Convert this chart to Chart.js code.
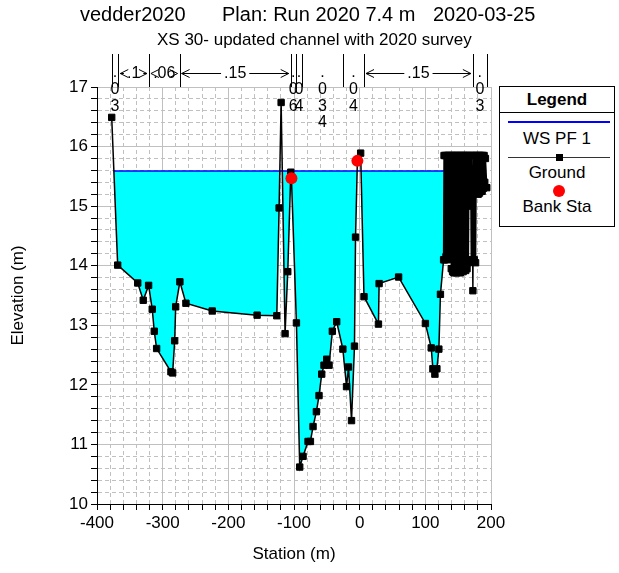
<!DOCTYPE html>
<html>
<head>
<meta charset="utf-8">
<script src="https://cdn.jsdelivr.net/npm/chart.js@4.4.1/dist/chart.umd.min.js"></script>
<style>
    html, body { margin: 0; padding: 0; background: #fff; }
    #wrap { position: relative; width: 619px; height: 573px; font-family: Arial, "Liberation Sans", sans-serif; color: #000; }
    #wrap canvas { position: absolute; left: 0; top: 0; }
    .txt { position: absolute; white-space: nowrap; line-height: 1; }
    #legend { position: absolute; left: 499px; top: 86px; width: 114px; height: 139px; border: 1px solid #000; background: #fff; }
    #legend .row { position: absolute; left: 0; width: 100%; text-align: center; font-size: 17px; line-height: 1; white-space: nowrap; }
    #legend .sym { position: absolute; }
</style>
</head>
<body>
<div id="wrap">
    <canvas id="xs_chart" width="619" height="573"></canvas>
    <div class="txt" style="left:80px;top:4px;font-size:20px">vedder2020</div>
    <div class="txt" style="left:222px;top:4px;font-size:20px">Plan: Run 2020 7.4 m</div>
    <div class="txt" style="left:433px;top:4px;font-size:20px">2020-03-25</div>
    <div class="txt" style="left:157px;top:31px;font-size:17px">XS 30- updated channel with 2020 survey</div>
    <div id="legend">
        <div class="row" style="top:4px;font-weight:bold">Legend</div>
        <div class="sym" style="left:0;top:25px;width:114px;height:1px;background:#000"></div>
        <div class="sym" style="left:8px;top:34px;width:102px;height:2px;background:#0000ff"></div>
        <div class="row" style="top:43px">WS PF 1</div>
        <div class="sym" style="left:8px;top:70px;width:102px;height:1px;background:#333"></div>
        <div class="sym" style="left:56px;top:67px;width:7px;height:7px;background:#000"></div>
        <div class="row" style="top:77px">Ground</div>
        <div class="sym" style="left:53px;top:98px;width:12px;height:12px;border-radius:50%;background:#ff0000"></div>
        <div class="row" style="top:111px">Bank Sta</div>
    </div>
</div>
<script>
// ground survey, station (m) and elevation (m)
const groundStation = [
    -377.6, -368.5, -338.0, -329.6, -321.4, -315.9, -312.8, -309.2, -287.4, -284.8,
    -281.7, -280.2, -273.8, -264.6, -224.6, -156.2, -126.2, -122.7, -119.6, -113.6,
    -109.5, -104.9, -103.9, -96.3, -91.3, -86.2, -78.6, -75.0, -71.0, -65.9,
    -61.9, -57.8, -54.3, -50.2, -46.6, -41.6, -35.0, -25.6, -20.0, -17.0,
    -12.4, -7.9, -6.3, -3.5, 1.5, 6.6, 28.6, 29.6, 59.3, 100.1,
    109.0, 111.5, 114.5, 117.6, 120.6, 123.0,
    127.8, 128.5, 129.5, 130.5, 131.5, 132.5, 133.5, 134.5, 135.5, 136.5,
    137.5, 138.5, 139.5, 140.5, 141.5, 142.5, 143.5, 144.5, 145.5, 146.5,
    147.5, 148.5, 149.5, 150.5, 151.5, 152.5, 153.5, 154.5, 155.5, 156.5,
    157.5, 158.5, 159.5, 160.5, 161.5, 162.5, 163.5, 164.5, 165.5, 166.5,
    168.0, 169.0, 170.0, 171.0, 172.4, 173.5, 174.5, 175.5, 176.5, 177.5,
    178.5, 179.5, 180.5, 181.5, 182.5, 183.5, 184.5, 185.5, 186.5, 187.5,
    188.5, 189.5, 190.5, 191.5, 193.6
];
const groundElevation = [
    16.49, 14.01, 13.71, 13.42, 13.67, 13.27, 12.90, 12.61, 12.22, 12.20,
    12.74, 13.31, 13.73, 13.37, 13.24, 13.17, 13.16, 14.97, 16.74, 12.86,
    13.90, 15.57, 15.47, 13.04, 10.62, 10.80, 11.05, 11.05, 11.30, 11.55,
    11.82, 12.18, 12.33, 12.43, 12.33, 12.90, 13.06, 12.60, 11.97, 12.30,
    11.40, 12.65, 14.48, 15.76, 15.89, 13.48, 13.02, 13.70, 13.81, 13.03,
    12.62, 12.27, 12.18, 12.27, 12.60, 13.52,
    14.10, 15.85, 14.10, 15.85, 14.15, 15.85, 14.10, 15.85, 14.20, 15.85,
    14.30, 15.85, 13.95, 15.85, 13.90, 15.85, 13.88, 15.85, 13.90, 15.85,
    13.88, 15.85, 13.92, 15.85, 13.90, 15.85, 13.88, 15.85, 13.92, 15.85,
    13.90, 15.85, 13.95, 15.85, 13.92, 15.85, 13.95, 15.85, 14.05, 15.85,
    15.00, 15.85, 14.10, 15.85, 13.58, 15.85, 14.10, 15.85, 14.05, 15.85,
    15.25, 15.85, 15.20, 15.85, 15.22, 15.85, 15.25, 15.85, 15.25, 15.85,
    15.30, 15.85, 15.40, 15.80, 15.31
];

// bank stations
const bankStation = [-103.9, -3.5];
const bankElevation = [15.47, 15.76];

// water surface PF 1, drawn between its two ground crossings
const wsElevation = 15.59;
const wsStation = [-374.3, 128.2];

// manning's n zones (break stations and values)
const nStation = [-377.6, -367.6, -320.9, -274.2, -105.0, -97.3, -87.7, -25.3, 6.6, 172.4, 193.6];
const nValue = ['.03', '.1', '.06', '.15', '.06', '.04', '.034', '.04', '.15', '.03'];
const nStacked = [true, false, false, false, true, true, true, true, false, true];

// axis labels
const xTickLabels = [-400, -300, -200, -100, 0, 100, 200];
const yTickLabels = [10, 11, 12, 13, 14, 15, 16, 17];

const FONT = 'Arial, "Liberation Sans", sans-serif';
Chart.defaults.font.family = FONT;
Chart.defaults.font.size = 17;
Chart.defaults.color = '#000';


function toPoints(xs, ys) {
    return xs.map((x, i) => ({ x: x, y: ys[i] }));
}

function isMajorX(v) {
    return xTickLabels.includes(v);
}

function isMajorY(v) {
    return Math.abs(v - Math.round(v)) < 1e-6;
}


/**
 * draws the n-value markers above the plot
 */
const manningPlugin = {
    id: 'manning',
    afterDraw(chart) {
        const ctx = chart.ctx;
        const xs = chart.scales.x;
        const px = s => xs.getPixelForValue(s);
        ctx.save();
        ctx.strokeStyle = '#000';
        ctx.lineWidth = 1;
        ctx.beginPath();
        nStation.forEach(s => {
            const x = Math.round(px(s)) + 0.5;
            ctx.moveTo(x, 54);
            ctx.lineTo(x, 87);
        });
        ctx.stroke();

        ctx.font = '16px ' + FONT;
        ctx.textAlign = 'center';
        ctx.textBaseline = 'middle';
        ctx.fillStyle = '#000';
        const yArrow = 73.5;
        for (let i = 0; i < nValue.length; i++) {
            const x1 = px(nStation[i]);
            const x2 = px(nStation[i + 1]);
            const xc = (x1 + x2) / 2;
            if (nStacked[i]) {
                nValue[i].split('').forEach((ch, k) => ctx.fillText(ch, xc, 72.5 + k * 16.8));
                continue;
            }
            const w = ctx.measureText(nValue[i]).width;
            ctx.fillText(nValue[i], xc, yArrow);
            const a = x1 + 2;
            const b = x2 - 2;
            ctx.beginPath();
            if (xc - w / 2 - 3 > a) {
                ctx.moveTo(a, yArrow);
                ctx.lineTo(xc - w / 2 - 3, yArrow);
            }
            if (xc + w / 2 + 3 < b) {
                ctx.moveTo(xc + w / 2 + 3, yArrow);
                ctx.lineTo(b, yArrow);
            }
            ctx.moveTo(a + 8, yArrow - 4);
            ctx.lineTo(a, yArrow);
            ctx.lineTo(a + 8, yArrow + 4);
            ctx.moveTo(b - 8, yArrow - 4);
            ctx.lineTo(b, yArrow);
            ctx.lineTo(b - 8, yArrow + 4);
            ctx.stroke();
        }
        ctx.restore();
    }
};


const xsChartConfig = {
    type: 'line',
    data: {
        datasets: [
            {
                label: 'Bank Sta',
                data: toPoints(bankStation, bankElevation),
                showLine: false,
                pointStyle: 'circle',
                pointRadius: 6,
                pointBackgroundColor: '#ff0000',
                pointBorderColor: '#ff0000',
                pointBorderWidth: 0
            },
            {
                label: 'Ground',
                data: toPoints(groundStation, groundElevation),
                borderColor: '#000',
                borderWidth: 1.5,
                tension: 0,
                pointStyle: 'rect',
                pointRadius: 4.5,
                pointBackgroundColor: '#000',
                pointBorderColor: '#000',
                pointBorderWidth: 1,
                fill: false
            },
            {
                label: 'WS PF 1',
                data: toPoints(wsStation, [wsElevation, wsElevation]),
                borderColor: '#0000ff',
                borderWidth: 1.5,
                pointRadius: 0,
                tension: 0,
                fill: { target: 1, above: '#00ffff', below: 'rgba(0,0,0,0)' }
            }
        ]
    },
    options: {
        responsive: false,
        animation: false,
        devicePixelRatio: 1,
        layout: { padding: { top: 87, right: 128, left: 0, bottom: 0 } },
        plugins: {
            legend: { display: false },
            title: { display: false },
            tooltip: { enabled: false }
        },
        scales: {
            x: {
                type: 'linear',
                min: -400,
                max: 200,
                afterBuildTicks: scale => {
                    let ticks = [];
                    for (let v = -400; v <= 200; v += 20) ticks.push({ value: v });
                    scale.ticks = ticks;
                },
                afterFit: scale => { scale.height = 69; },
                ticks: {
                    autoSkip: false,
                    maxRotation: 0,
                    padding: 3,
                    callback: v => isMajorX(v) ? String(v) : ''
                },
                grid: {
                    color: '#c0c0c0',
                    lineWidth: 1,
                    tickColor: '#000',
                    tickLength: 6,
                    tickBorderDash: []
                },
                border: {
                    color: '#000',
                    width: 1,
                    dash: c => (c.tick && !isMajorX(c.tick.value)) ? [4, 3] : []
                },
                title: { display: true, text: 'Station (m)', padding: { top: 0, bottom: 8 } }
            },
            y: {
                type: 'linear',
                min: 10,
                max: 17,
                afterBuildTicks: scale => {
                    let ticks = [];
                    for (let i = 0; i <= 35; i++) ticks.push({ value: Math.round((10 + i * 0.2) * 10) / 10 });
                    scale.ticks = ticks;
                },
                afterFit: scale => { scale.width = 97; },
                ticks: {
                    autoSkip: false,
                    padding: 3,
                    callback: v => isMajorY(v) && yTickLabels.includes(Math.round(v)) ? String(Math.round(v)) : ''
                },
                grid: {
                    color: '#c0c0c0',
                    lineWidth: 1,
                    tickColor: '#000',
                    tickLength: 6,
                    tickBorderDash: []
                },
                border: {
                    color: '#000',
                    width: 1,
                    dash: c => (c.tick && !isMajorY(c.tick.value)) ? [4, 3] : []
                },
                title: { display: true, text: 'Elevation (m)', padding: { top: 8, bottom: 0 } }
            }
        }
    },
    plugins: [manningPlugin]
};

const xsChart = new Chart(document.getElementById('xs_chart'), xsChartConfig);
</script>
</body>
</html>
